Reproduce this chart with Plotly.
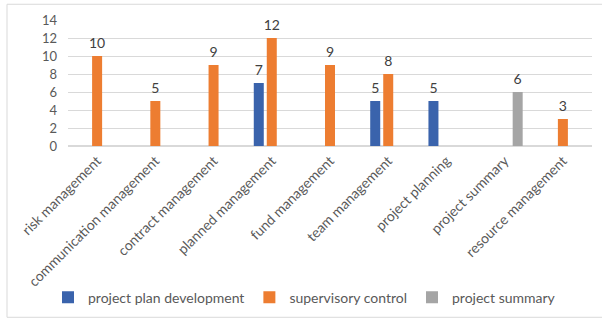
import plotly.graph_objects as go

categories = ["risk management", "communication management", "contract management",
              "planned management", "fund management", "team management",
              "project planning", "project summary", "resource management"]
plan_dev = [None, None, None, 7, None, 5, 5, None, None]
supervisory = [10, 5, 9, 12, 9, 8, None, None, 3]
summary = [None, None, None, None, None, None, None, 6, None]
series_names = ["project plan development", "supervisory control", "project summary"]
y_ticks = [0, 2, 4, 6, 8, 10, 12, 14]

colors = ["#3A63AC", "#ED7D31", "#A5A5A5"]
FONT = "Lato"

fig = go.Figure()
for i, (name, vals, c) in enumerate(zip(series_names, [plan_dev, supervisory, summary], colors)):
    fig.add_trace(go.Bar(
        x=categories, y=vals, name=name, marker=dict(color=c, line=dict(width=0)),
        offsetgroup=str(i), hoverinfo="skip",
    ))
for i, vals in enumerate([plan_dev, supervisory, summary]):
    fig.add_trace(go.Scatter(
        x=categories, y=vals, mode="markers+text", offsetgroup=str(i),
        marker=dict(size=6, color="rgba(0,0,0,0)"),
        text=[("" if v is None else str(v)) for v in vals],
        textposition="top center", cliponaxis=False, showlegend=False, hoverinfo="skip",
        textfont=dict(family=FONT, size=14, color="#404040"),
    ))

W, H = 602, 324
L, R, T, B = 68, 10, 20, 176
pw, ph = W - L - R, H - T - B

def px(x):
    return (x - L) / pw

def py(y):
    return (H - B - y) / ph

fig.update_layout(
    width=W, height=H,
    margin=dict(l=L, r=R, t=T, b=B),
    paper_bgcolor="white", plot_bgcolor="white",
    barmode="group", bargap=0.33, bargroupgap=0.23,
    scattermode="group", scattergap=0.33,
    showlegend=True,
    legend=dict(orientation="h", x=px(48), xanchor="left", y=py(302), yanchor="middle",
                font=dict(family=FONT, size=14, color="#595959"),
                itemwidth=30, traceorder="normal"),
    font=dict(family=FONT, color="#595959"),
    xaxis=dict(tickangle=-45, tickfont=dict(family=FONT, size=14, color="#595959"),
               showgrid=False, showline=False, ticks="", zeroline=False, automargin=False,
               ticklabelstandoff=3),
    yaxis=dict(range=[0, 14], tickvals=y_ticks, tickfont=dict(family=FONT, size=13, color="#595959"),
               gridcolor="#D9D9D9", gridwidth=1, zeroline=True, zerolinecolor="#D9D9D9",
               showline=False, ticks="", ticklabelstandoff=10, automargin=False),
    shapes=[dict(type="rect", xref="paper", yref="paper",
                 x0=px(7), x1=px(603), y0=py(322), y1=py(4),
                 line=dict(color="#D9D9D9", width=1), layer="below")],
)

fig.write_html("out.html")
